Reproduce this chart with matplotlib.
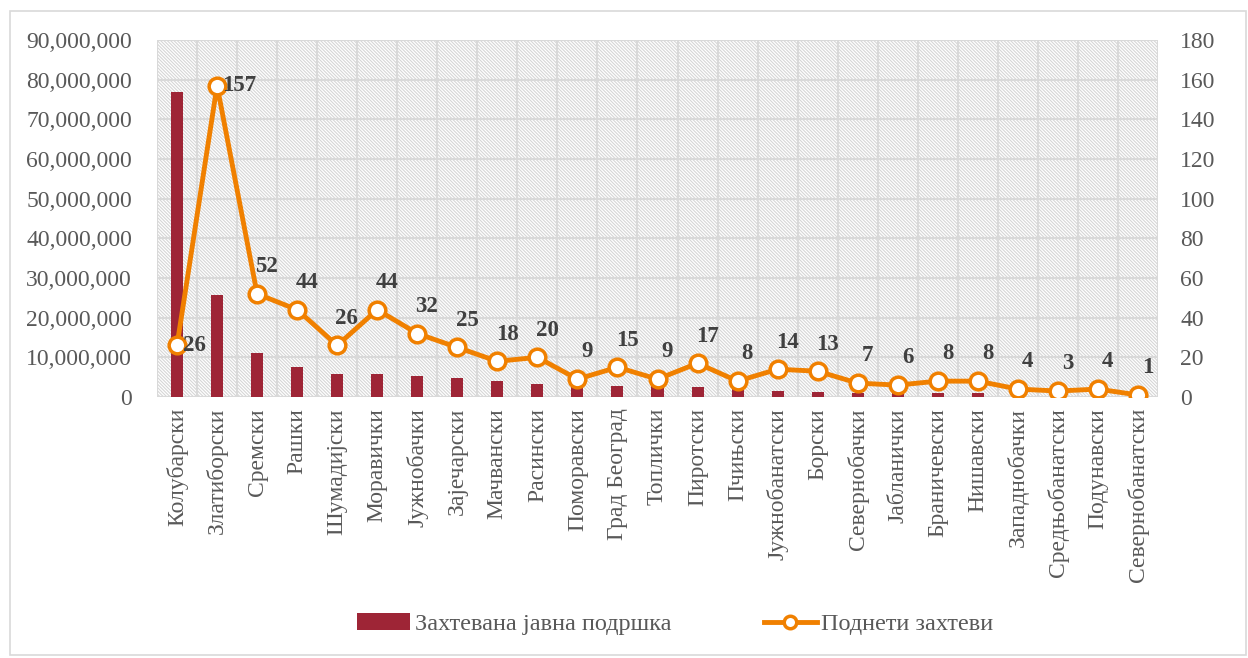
import numpy as np
import matplotlib
matplotlib.use("Agg")
import matplotlib.pyplot as plt
from matplotlib.patches import Rectangle
from matplotlib.ticker import FuncFormatter, MultipleLocator

plt.rcParams['font.family'] = ['Liberation Serif', 'DejaVu Serif']
plt.rcParams['hatch.linewidth'] = 0.8

# Podaci
okruzi = ['Колубарски', 'Златиборски', 'Сремски', 'Рашки', 'Шумадијски', 'Моравички',
          'Јужнобачки', 'Зајечарски', 'Мачвански', 'Расински', 'Поморавски', 'Град Београд',
          'Топлички', 'Пиротски', 'Пчињски', 'Јужнобанатски', 'Борски', 'Севернобачки',
          'Јабланички', 'Браничевски', 'Нишавски', 'Западнобачки', 'Средњобанатски',
          'Подунавски', 'Севернобанатски']
podrska = [77.0e6, 25.7e6, 11.0e6, 7.6e6, 5.9e6, 5.8e6, 5.4e6, 4.9e6, 4.1e6, 3.4e6,
           2.8e6, 2.8e6, 2.7e6, 2.4e6, 2.2e6, 1.6e6, 1.3e6, 1.0e6, 1.0e6, 1.0e6,
           1.0e6, 0.5e6, 0.3e6, 0.3e6, 0.1e6]
zahtevi = [26, 157, 52, 44, 26, 44, 32, 25, 18, 20, 9, 15, 9, 17, 8, 14, 13, 7, 6, 8, 8, 4, 3, 4, 1]

bar_col = '#9e2536'
line_col = '#f08000'
grid_col = '#d9d9d9'
txt_col = '#595959'

fig = plt.figure(figsize=(12.48, 6.58), dpi=100)
fig.patches.append(Rectangle((10/1248, 3/658), 1 - 12/1248, 1 - 14/658, transform=fig.transFigure,
                             fill=False, edgecolor=grid_col, linewidth=1.2))
ax = fig.add_axes([157/1248, 1 - 397/658, (1158 - 157)/1248, (397 - 40)/658])
x = np.arange(len(okruzi))

# pozadina sa srafurom
ax.add_patch(Rectangle((0, 0), 1, 1, transform=ax.transAxes, facecolor='white',
                       edgecolor='#d6d6d6', hatch='\\\\\\\\\\\\\\\\\\\\', linewidth=0, zorder=0))
for s in ax.spines.values():
    s.set_visible(False)

ax.bar(x, podrska, width=0.3, color=bar_col, zorder=3, label='Захтевана јавна подршка')
ax.set_ylim(0, 90e6)
ax.set_xlim(-0.5, len(okruzi) - 0.5)
ax.yaxis.set_major_locator(MultipleLocator(10e6))
ax.yaxis.set_major_formatter(FuncFormatter(lambda v, p: f'{int(v):,}'))
ax.grid(axis='y', color=grid_col, linewidth=1.5, zorder=1)
for b in np.arange(-0.5, len(okruzi), 1):
    ax.axvline(b, color=grid_col, linewidth=1.5, zorder=1)
ax.set_xticks(x)
ax.set_xticklabels(okruzi, rotation=90, fontsize=17, color=txt_col)
ax.tick_params(axis='x', length=0, pad=8)
ax.tick_params(axis='y', length=0, pad=18, labelsize=17, labelcolor=txt_col)

ax2 = ax.twinx()
ax2.set_position(ax.get_position())
for s in ax2.spines.values():
    s.set_visible(False)
ax2.plot(x, zahtevi, color=line_col, linewidth=3.5, marker='o', markersize=12,
         markerfacecolor='white', markeredgecolor=line_col, markeredgewidth=2.5,
         zorder=4, label='Поднети захтеви')
ax2.set_ylim(0, 180)
ax2.yaxis.set_major_locator(MultipleLocator(20))
ax2.tick_params(axis='y', length=0, pad=16, labelsize=17, labelcolor=txt_col)

for i, v in enumerate(zahtevi):
    if i < 2:
        off, ha, va = (4, 0), 'left', 'center'
    else:
        off, ha, va = (7, 12), 'center', 'bottom'
    ax2.annotate(str(v), (i, v), xytext=off, textcoords='offset points', ha=ha, va=va,
                 fontsize=16.5, fontweight='bold', color='#404040', zorder=5)

h1, l1 = ax.get_legend_handles_labels()
h2, l2 = ax2.get_legend_handles_labels()
fig.legend(h1 + h2, l1 + l2, loc='center', bbox_to_anchor=(0.541, 1 - 624/658), ncol=2,
           frameon=False, fontsize=17.5, labelcolor=txt_col, columnspacing=3.8,
           handlelength=2.2, handletextpad=0.18, markerscale=0.75)

fig.savefig('out.png', dpi=100)
